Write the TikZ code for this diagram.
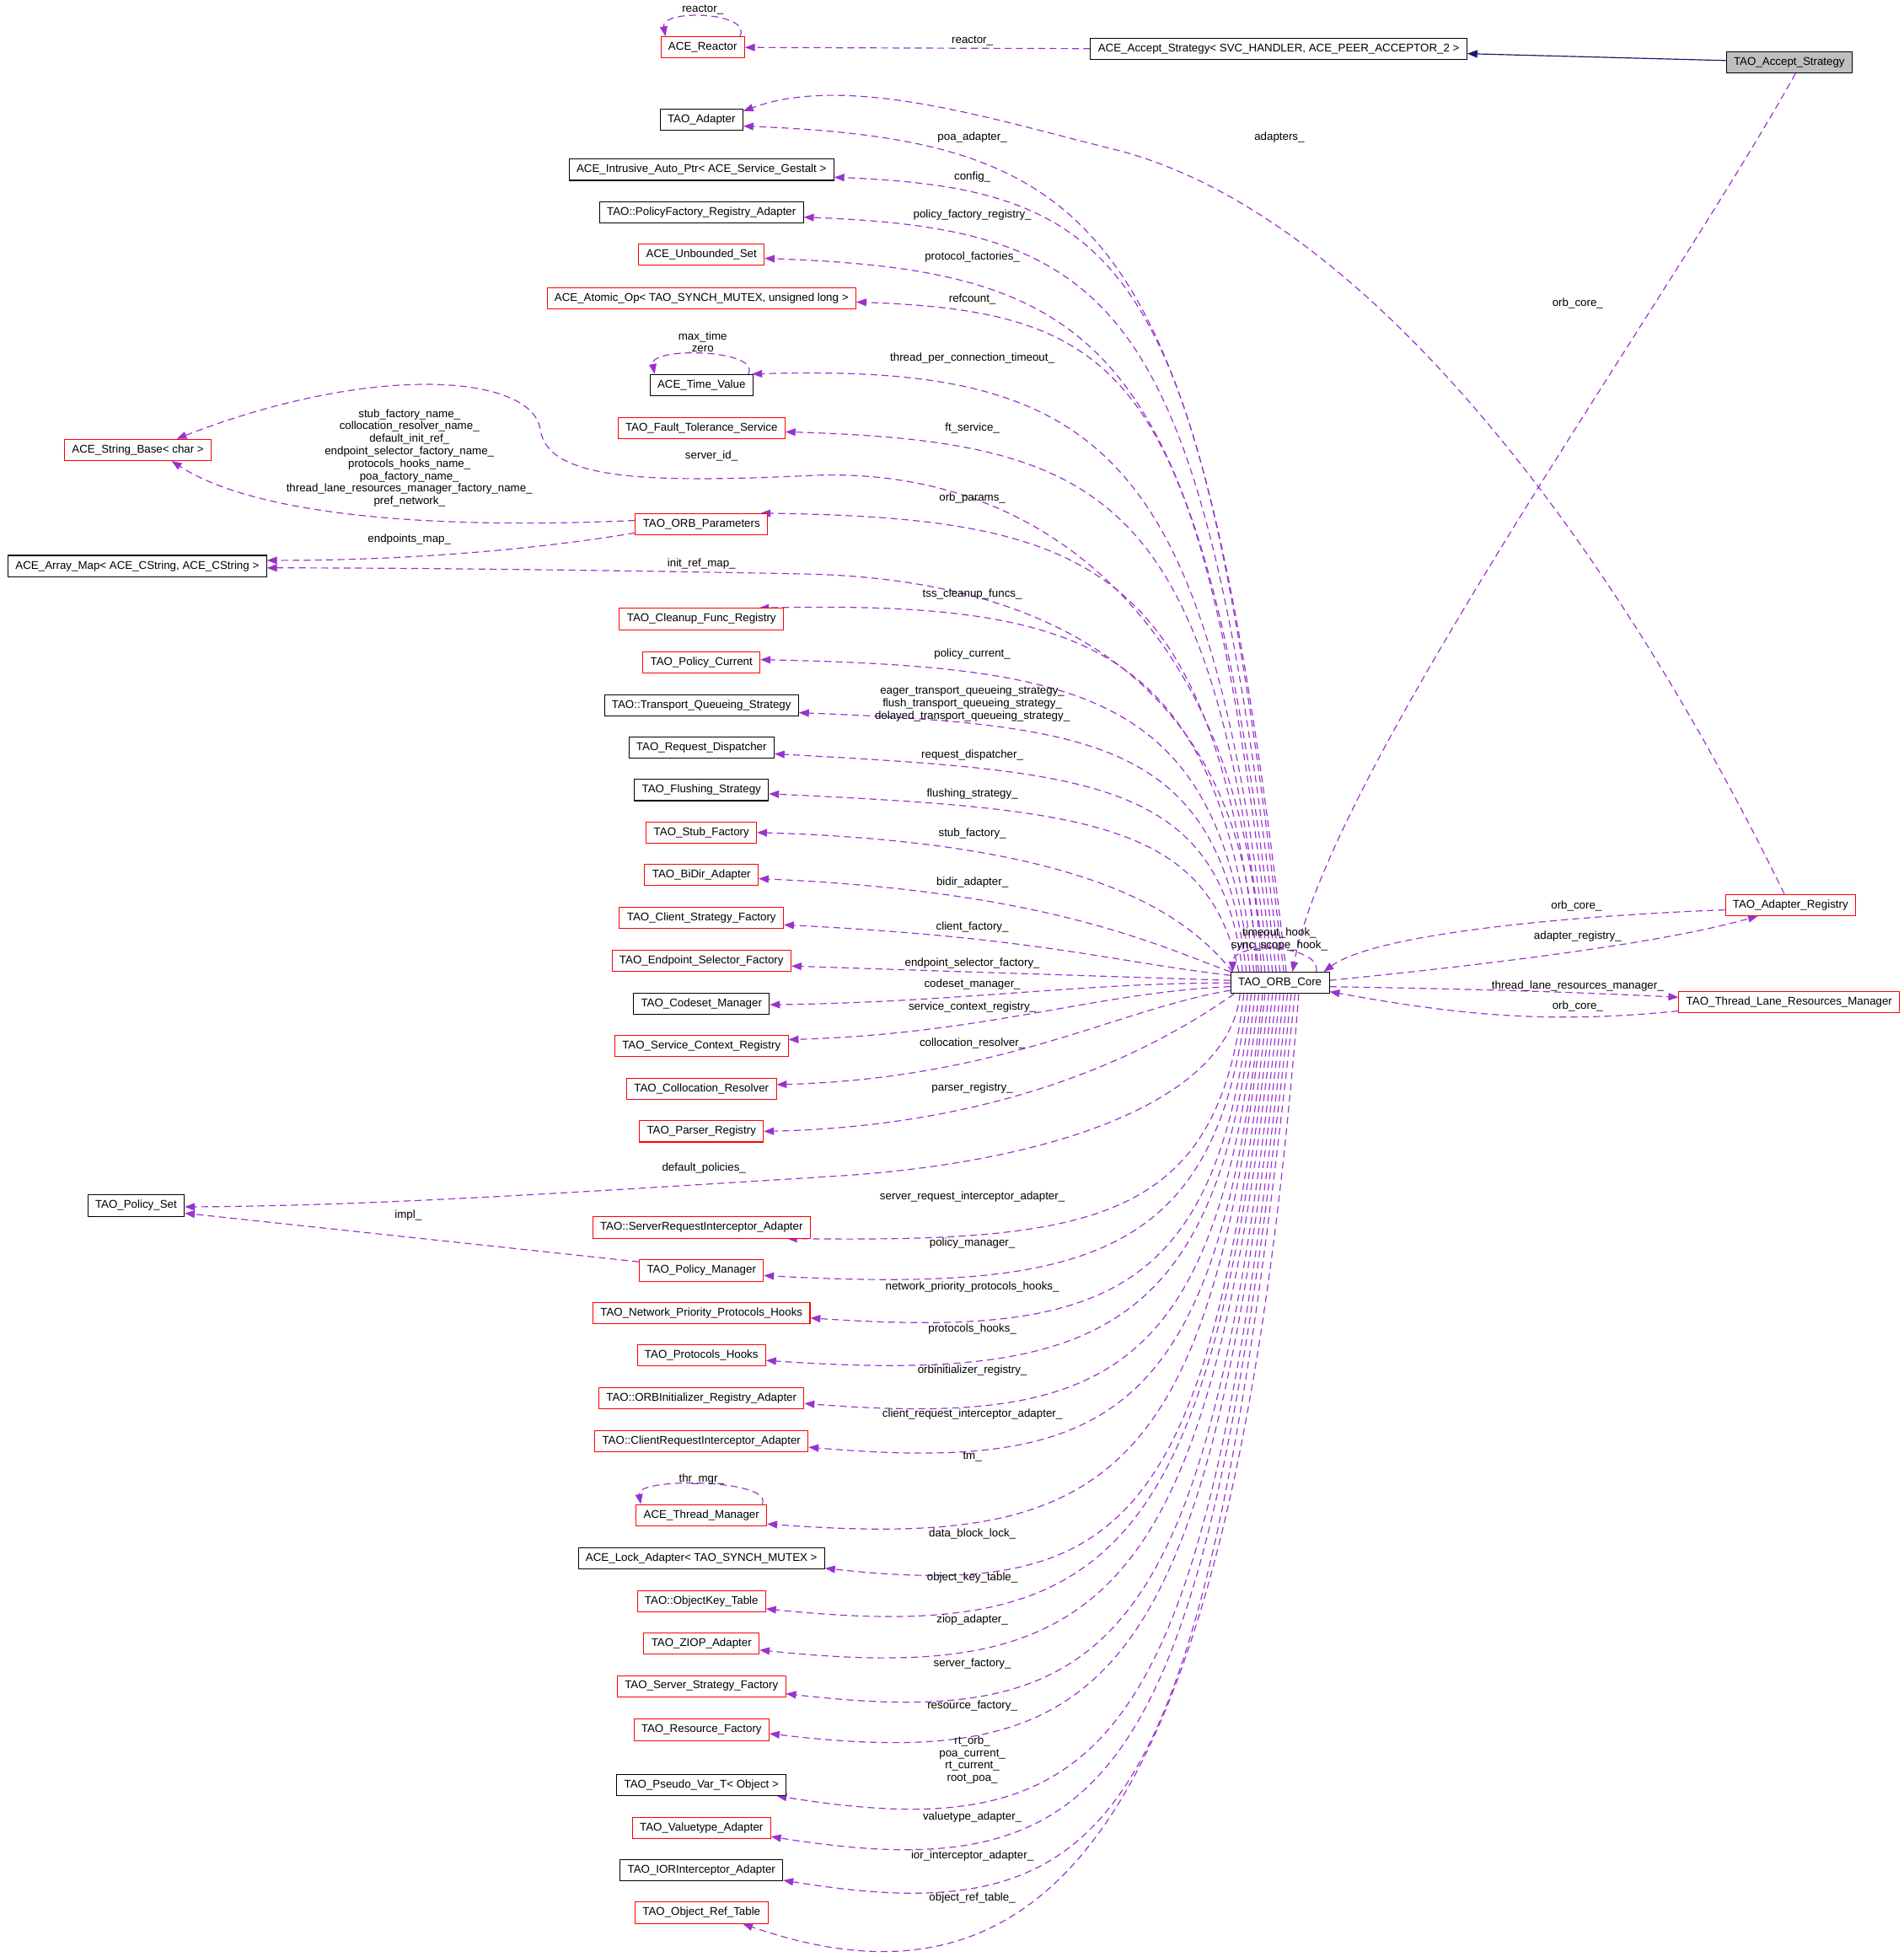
\documentclass[tikz,border=0pt]{standalone}
\usepackage{fontspec}
\setmainfont{Liberation Sans}
\usetikzlibrary{arrows.meta,backgrounds}
\definecolor{depcol}{HTML}{9A32CD}
\definecolor{inhcol}{HTML}{191970}
\definecolor{boxgray}{HTML}{BFBFBF}
\newcommand\lblfont{\fontsize{9}{10}\selectfont}
\begin{document}
\begin{tikzpicture}[x=1pt,y=-1pt,
 cls/.style={draw=black,line width=0.7pt,fill=white,minimum height=17pt,inner xsep=6pt,inner ysep=0pt,font=\lblfont},
 rcls/.style={cls,draw=red},
 lbl/.style={font=\lblfont,inner sep=0pt,align=center},
 dep/.style={draw=depcol,line width=0.8pt,dash pattern=on 5.5pt off 3.5pt,-{Triangle[length=8pt,width=6pt]}},
 inh/.style={draw=inhcol,line width=0.8pt,-{Triangle[length=8pt,width=6pt]}}]
\useasboundingbox (0,0) rectangle (1525,1568);
% ---------- classes ----------
\node[rcls] (reactor) at (563,38) {ACE\_Reactor};
\node[cls] (aas) at (1024.5,39) {ACE\_Accept\_Strategy< SVC\_HANDLER, ACE\_PEER\_ACCEPTOR\_2 >};
\node[cls,fill=boxgray] (tas) at (1433.5,50) {TAO\_Accept\_Strategy};
\node[cls] (adapter) at (562,96) {TAO\_Adapter};
\node[cls] (intrusive) at (562,136) {ACE\_Intrusive\_Auto\_Ptr< ACE\_Service\_Gestalt >};
\node[cls] (pfra) at (562,170) {TAO::PolicyFactory\_Registry\_Adapter};
\node[rcls] (unbounded) at (562,204) {ACE\_Unbounded\_Set};
\node[rcls] (atomic) at (562,239) {ACE\_Atomic\_Op< TAO\_SYNCH\_MUTEX, unsigned long >};
\node[cls] (tv) at (562,308.5) {ACE\_Time\_Value};
\node[rcls] (fts) at (562,343) {TAO\_Fault\_Tolerance\_Service};
\node[rcls] (strbase) at (110.5,360.5) {ACE\_String\_Base< char >};
\node[rcls] (params) at (562,420) {TAO\_ORB\_Parameters};
\node[cls] (arraymap) at (110,453.5) {ACE\_Array\_Map< ACE\_CString, ACE\_CString >};
\node[rcls] (cfr) at (562,496) {TAO\_Cleanup\_Func\_Registry};
\node[rcls] (pcur) at (562,530.5) {TAO\_Policy\_Current};
\node[cls] (tqs) at (562,565) {TAO::Transport\_Queueing\_Strategy};
\node[cls] (rd) at (562,599) {TAO\_Request\_Dispatcher};
\node[cls] (fs) at (562,633) {TAO\_Flushing\_Strategy};
\node[rcls] (sf) at (562,667) {TAO\_Stub\_Factory};
\node[rcls] (bidir) at (562,701) {TAO\_BiDir\_Adapter};
\node[rcls] (csf) at (562,735.5) {TAO\_Client\_Strategy\_Factory};
\node[rcls] (esf) at (562,770) {TAO\_Endpoint\_Selector\_Factory};
\node[cls] (codeset) at (562,804) {TAO\_Codeset\_Manager};
\node[rcls] (scr) at (562,838) {TAO\_Service\_Context\_Registry};
\node[rcls] (crr) at (562,872.5) {TAO\_Collocation\_Resolver};
\node[rcls] (parser) at (562,906.5) {TAO\_Parser\_Registry};
\node[cls] (pset) at (109,966) {TAO\_Policy\_Set};
\node[rcls] (sria) at (562,983.5) {TAO::ServerRequestInterceptor\_Adapter};
\node[rcls] (pm) at (562,1018) {TAO\_Policy\_Manager};
\node[rcls] (npph) at (562,1052) {TAO\_Network\_Priority\_Protocols\_Hooks};
\node[rcls] (ph) at (562,1086) {TAO\_Protocols\_Hooks};
\node[rcls] (oira) at (562,1120.5) {TAO::ORBInitializer\_Registry\_Adapter};
\node[rcls] (cria) at (562,1154.5) {TAO::ClientRequestInterceptor\_Adapter};
\node[rcls] (thrmgr) at (562,1214) {ACE\_Thread\_Manager};
\node[cls] (lockad) at (562,1248.5) {ACE\_Lock\_Adapter< TAO\_SYNCH\_MUTEX >};
\node[rcls] (okt) at (562,1283) {TAO::ObjectKey\_Table};
\node[rcls] (ziop) at (562,1317) {TAO\_ZIOP\_Adapter};
\node[rcls] (ssf) at (562,1351) {TAO\_Server\_Strategy\_Factory};
\node[rcls] (rf) at (562,1386) {TAO\_Resource\_Factory};
\node[cls] (pvt) at (562,1430) {TAO\_Pseudo\_Var\_T< Object >};
\node[rcls] (vta) at (562,1464.5) {TAO\_Valuetype\_Adapter};
\node[cls] (iora) at (562,1498.5) {TAO\_IORInterceptor\_Adapter};
\node[rcls] (ort) at (562,1532.5) {TAO\_Object\_Ref\_Table};
\node[cls] (core) at (1025.5,787.5) {TAO\_ORB\_Core};
\node[rcls] (adreg) at (1434.5,725) {TAO\_Adapter\_Registry};
\node[rcls] (tlrm) at (1433.5,803) {TAO\_Thread\_Lane\_Resources\_Manager};
% ---------- labels ----------
\node[lbl] (l01) at (563,8) {reactor\_};
\node[lbl] (l02) at (779,33) {reactor\_};
\node[lbl] (l03) at (779,110) {poa\_adapter\_};
\node[lbl] (l04) at (1025,110) {adapters\_};
\node[lbl] (l05) at (779,142) {config\_};
\node[lbl] (l06) at (779,172) {policy\_factory\_registry\_};
\node[lbl] (l07) at (779,206) {protocol\_factories\_};
\node[lbl] (l08) at (779,240) {refcount\_};
\node[lbl] (l09) at (1264,243) {orb\_core\_};
\node[lbl] (l10) at (563,274) {max\_time\\zero};
\node[lbl] (l11) at (779,287) {thread\_per\_connection\_timeout\_};
\node[lbl] (l12) at (779,343) {ft\_service\_};
\node[lbl] (l13) at (570,365) {server\_id\_};
\node[lbl] (l14) at (328,367) {stub\_factory\_name\_\\collocation\_resolver\_name\_\\default\_init\_ref\_\\endpoint\_selector\_factory\_name\_\\protocols\_hooks\_name\_\\poa\_factory\_name\_\\thread\_lane\_resources\_manager\_factory\_name\_\\pref\_network\_};
\node[lbl] (l15) at (779,399) {orb\_params\_};
\node[lbl] (l16) at (328,432) {endpoints\_map\_};
\node[lbl] (l17) at (562,452) {init\_ref\_map\_};
\node[lbl] (l18) at (779,476) {tss\_cleanup\_funcs\_};
\node[lbl] (l19) at (779,524) {policy\_current\_};
\node[lbl] (l20) at (779,564) {eager\_transport\_queueing\_strategy\_\\flush\_transport\_queueing\_strategy\_\\delayed\_transport\_queueing\_strategy\_};
\node[lbl] (l21) at (779,605) {request\_dispatcher\_};
\node[lbl] (l22) at (779,636) {flushing\_strategy\_};
\node[lbl] (l23) at (779,668) {stub\_factory\_};
\node[lbl] (l24) at (779,707) {bidir\_adapter\_};
\node[lbl] (l25) at (1263,726) {orb\_core\_};
\node[lbl] (l26) at (779,743) {client\_factory\_};
\node[lbl] (l27) at (1264,750) {adapter\_registry\_};
\node[lbl] (l28) at (1025,752.5) {timeout\_hook\_\\sync\_scope\_hook\_};
\node[lbl] (l29) at (779,772) {endpoint\_selector\_factory\_};
\node[lbl] (l30) at (779,789) {codeset\_manager\_};
\node[lbl] (l31) at (1264,790) {thread\_lane\_resources\_manager\_};
\node[lbl] (l32) at (779,807) {service\_context\_registry\_};
\node[lbl] (l33) at (1264,806) {orb\_core\_};
\node[lbl] (l34) at (779,836) {collocation\_resolver\_};
\node[lbl] (l35) at (779,872) {parser\_registry\_};
\node[lbl] (l36) at (564,936) {default\_policies\_};
\node[lbl] (l37) at (779,959) {server\_request\_interceptor\_adapter\_};
\node[lbl] (l38) at (327,974) {impl\_};
\node[lbl] (l39) at (779,996) {policy\_manager\_};
\node[lbl] (l40) at (779,1031) {network\_priority\_protocols\_hooks\_};
\node[lbl] (l41) at (779,1065) {protocols\_hooks\_};
\node[lbl] (l42) at (779,1098) {orbinitializer\_registry\_};
\node[lbl] (l43) at (779,1133) {client\_request\_interceptor\_adapter\_};
\node[lbl] (l44) at (779,1167) {tm\_};
\node[lbl] (l45) at (562,1185) {thr\_mgr\_};
\node[lbl] (l46) at (779,1229) {data\_block\_lock\_};
\node[lbl] (l47) at (779,1264) {object\_key\_table\_};
\node[lbl] (l48) at (779,1298) {ziop\_adapter\_};
\node[lbl] (l49) at (779,1333) {server\_factory\_};
\node[lbl] (l50) at (779,1367) {resource\_factory\_};
\node[lbl] (l51) at (779,1410) {rt\_orb\_\\poa\_current\_\\rt\_current\_\\root\_poa\_};
\node[lbl] (l52) at (779,1456) {valuetype\_adapter\_};
\node[lbl] (l53) at (779,1487) {ior\_interceptor\_adapter\_};
\node[lbl] (l54) at (779,1521) {object\_ref\_table\_};
% ---------- connectors ----------
\begin{pgfonlayer}{background}
\draw[inh] ([yshift=1.5]tas.west) -- ([yshift=-4]aas.east);
\draw[dep] (aas.west) -- (reactor.east);
\draw[dep] ([xshift=-4]reactor.north east) .. controls +(10,-20) and +(-4,-22) .. ([xshift=4]reactor.north west);
\draw[dep] ([xshift=-4]tv.north east) .. controls +(10,-20) and +(-4,-22) .. ([xshift=4]tv.north west);
\draw[dep] ([xshift=-4]thrmgr.north east) .. controls +(10,-20) and +(-4,-22) .. ([xshift=4]thrmgr.north west);
\draw[dep] ([xshift=29]core.north) .. controls +(5,-22) and +(0,-25) .. ([xshift=-38]core.north);
\draw[dep] ([xshift=5]tas.south) .. controls +(-100,180) and +(30,-160) .. ([xshift=10]core.north);
\draw[dep] ([xshift=-5]adreg.north) .. controls (1300,450) and (1100,170) .. (890,119) .. controls (800,97) and (680,58) .. ([yshift=7]adapter.east);
\draw[dep] ([yshift=2]core.east) .. controls +(150,-15) and +(-70,20) .. ([xshift=-26]adreg.south);
\draw[dep] ([yshift=-4]adreg.west) .. controls +(-130,5) and +(40,-30) .. ([xshift=35]core.north);
\draw[dep] ([yshift=-3]core.east) .. controls +(120,2) and +(-80,-4) .. ([yshift=4]tlrm.west);
\draw[dep] ([yshift=-7]tlrm.west) .. controls +(-100,10) and +(110,20) .. ([yshift=-7]core.east);
\draw[dep] ([yshift=3]params.west) .. controls (330,425) and (200,410) .. ([xshift=27]strbase.south);
\draw[dep] ([yshift=-7]params.west) .. controls (430,440) and (330,449) .. ([yshift=4.5]arraymap.east);
\draw[dep] ([yshift=7]pm.west) -- ([yshift=-6]pset.east);
% upper
\draw[dep] ([xshift=5]core.north) .. controls +(-68,-597) and +(294,12) .. ([yshift=-5]adapter.east);
\draw[dep] ([xshift=3]core.north) .. controls +(-64,-561) and +(243,10) .. ([yshift=-6]intrusive.east);
\draw[dep] (core.north) .. controls +(-60,-532) and +(258,10) .. ([yshift=-4]pfra.east);
\draw[dep] ([xshift=-3]core.north) .. controls +(-57,-503) and +(276,10) .. ([yshift=-3]unbounded.east);
\draw[dep] ([xshift=-6]core.north) .. controls +(-54,-473) and +(225,8) .. ([yshift=-3]atomic.east);
\draw[dep] ([xshift=-9]core.north) .. controls +(-48,-422) and +(279,-8) .. ([xshift=-1]tv.north east);
\draw[dep] ([xshift=-12]core.north) .. controls +(-43,-381) and +(260,8) .. ([yshift=-3]fts.east);
\draw[dep] ([xshift=-15]core.north) .. controls (1000,520) and (850,372) .. (650,381) .. controls (520,387) and (440,385) .. (433,345) .. controls (428,300) and (300,290) .. ([xshift=31]strbase.north);
\draw[dep] ([xshift=-17]core.north) .. controls +(-37,-324) and +(271,4) .. ([xshift=-6]params.north east);
\draw[dep] ([xshift=-19]core.north) .. controls (1000,560) and (860,466) .. (650,460) .. controls (450,456) and (300,455) .. ([yshift=-1.5]arraymap.east);
\draw[dep] ([xshift=-21]core.north) .. controls +(-29,-257) and +(271,-6) .. ([xshift=-20]cfr.north east);
\draw[dep] ([xshift=-24]core.north) .. controls +(-25,-221) and +(265,6) .. ([yshift=2]pcur.east);
\draw[dep] ([xshift=-27]core.north) .. controls +(-21,-183) and +(243,10) .. ([yshift=-6]tqs.east);
\draw[dep] ([xshift=-30]core.north) .. controls +(-18,-154) and +(254,14) .. ([yshift=-5]rd.east);
\draw[dep] ([xshift=-33]core.north) .. controls +(-25,-120) and +(255,12) .. ([yshift=-3]fs.east);
\draw[dep] ([xshift=-38]core.north) .. controls +(-40,-50) and +(259,8) .. (sf.east);
% left
\draw[dep] (core.north west) .. controls +(-60,-22) and +(230,10) .. ([yshift=-3]bidir.east);
\draw[dep] ([yshift=6]core.west) .. controls +(-100,-12) and +(200,10) .. ([yshift=-5.5]csf.east);
\draw[dep] ([yshift=2]core.west) .. controls +(-120,-4) and +(180,6) .. ([yshift=-4]esf.east);
\draw[dep] (core.west) .. controls +(-120,0) and +(150,-2) .. ([yshift=-1]codeset.east);
\draw[dep] ([yshift=-3]core.west) .. controls +(-110,5) and +(160,-5) .. ([yshift=5]scr.east);
\draw[dep] ([yshift=-6]core.west) .. controls +(-90,15) and +(180,-5) .. ([yshift=3.5]crr.east);
\draw[dep] ([xshift=3]core.south west) .. controls +(-50,35) and +(210,-5) .. (parser.east);
% lower
\draw[dep] ([xshift=-32]core.south) .. controls (985,880) and (850,930) .. (675,942) .. controls (450,956) and (300,966) .. ([yshift=-1]pset.east);
\draw[dep] ([xshift=-29]core.south) .. controls +(-20,182) and +(248,3) .. ([xshift=-19]sria.south east);
\draw[dep] ([xshift=-26]core.south) .. controls +(-23,210) and +(262,14) .. ([yshift=-4]pm.east);
\draw[dep] ([xshift=-23]core.south) .. controls +(-26,242) and +(238,16) .. ([yshift=-4]npph.east);
\draw[dep] ([xshift=-20]core.south) .. controls +(-29,273) and +(265,18) .. ([yshift=-4]ph.east);
\draw[dep] ([xshift=-17]core.south) .. controls +(-33,305) and +(246,19) .. ([yshift=-4]oira.east);
\draw[dep] ([xshift=-14]core.south) .. controls +(-36,338) and +(246,21) .. ([yshift=-5]cria.east);
\draw[dep] ([xshift=-12]core.south) .. controls +(-43,395) and +(271,20) .. ([yshift=-7]thrmgr.east);
\draw[dep] ([xshift=-9]core.south) .. controls +(-46,428) and +(240,26) .. ([yshift=-8]lockad.east);
\draw[dep] ([xshift=-6]core.south) .. controls +(-49,458) and +(274,28) .. ([yshift=-6]okt.east);
\draw[dep] ([xshift=-3]core.south) .. controls +(-53,489) and +(280,29) .. ([yshift=-5]ziop.east);
\draw[dep] (core.south) .. controls +(-56,522) and +(268,31) .. ([yshift=-6]ssf.east);
\draw[dep] ([xshift=3]core.south) .. controls +(-59,551) and +(279,33) .. ([yshift=-3]rf.east);
\draw[dep] ([xshift=6]core.south) .. controls +(-64,597) and +(278,45) .. ([xshift=-8]pvt.south east);
\draw[dep] ([xshift=9]core.south) .. controls +(-68,628) and +(282,45) .. ([yshift=-7]vta.east);
\draw[dep] ([xshift=12]core.south) .. controls +(-71,660) and +(277,45) .. ([yshift=-8]iora.east);
\draw[dep] ([xshift=15]core.south) .. controls +(-50,640) and +(260,90) .. ([xshift=33]ort.south);
\end{pgfonlayer}
\end{tikzpicture}
\end{document}
